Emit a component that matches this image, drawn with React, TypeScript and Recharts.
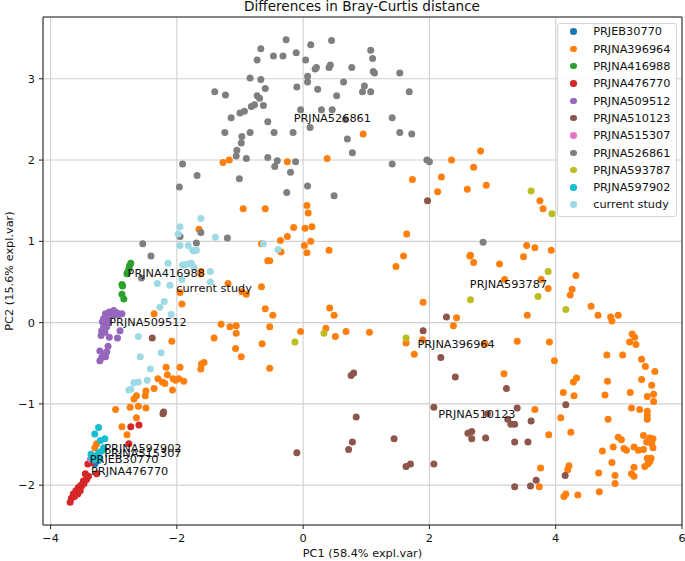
import React from 'react';
import { ScatterChart, Scatter, XAxis, YAxis, CartesianGrid, ReferenceArea } from 'recharts';

const seriesNames = ['PRJEB30770', 'PRJNA396964', 'PRJNA416988', 'PRJNA476770', 'PRJNA509512', 'PRJNA510123', 'PRJNA515307', 'PRJNA526861', 'PRJNA593787', 'PRJNA597902', 'current study'];
const seriesColors = ['#1f77b4', '#ff7f0e', '#2ca02c', '#d62728', '#9467bd', '#8c564b', '#e377c2', '#7f7f7f', '#bcbd22', '#17becf', '#9edae5'];

const xTicks = [-4, -2, 0, 2, 4, 6];
const yTicks = [-2, -1, 0, 1, 2, 3];

const prjeb30770 = [[-3.34, -1.71], [-3.30, -1.74], [-3.25, -1.70]];

const prjna396964 = [
  [-1.27, 1.97], [-1.17, 2.00], [-0.95, 1.40], [-0.60, 1.40], [-1.65, 1.15], [-0.66, 0.97], [-0.56, 0.76], [-1.62, 0.63],
  [-0.25, 1.98], [0.38, 2.02], [0.06, 1.44], [0.08, 1.35], [-0.15, 1.17], [0.03, 1.16], [0.14, 1.18], [-0.25, 1.06], [-0.36, 1.01], [0.02, 0.95], [0.12, 1.00], [0.41, 0.89], [0.06, 0.86], [-0.35, 0.87], [-0.53, 0.76],
  [0.95, 2.32], [2.35, 2.00], [1.73, 1.76], [2.19, 1.79], [2.13, 1.61], [2.60, 1.64], [1.64, 1.09], [1.59, 0.82], [1.47, 0.69], [2.64, 0.82],
  [2.81, 2.11], [2.70, 1.91], [2.90, 1.69], [3.75, 1.50], [3.80, 1.40], [3.54, 0.95], [3.67, 0.92], [3.93, 0.89], [3.49, 0.81], [2.65, 0.83], [2.70, 0.74], [3.11, 0.72], [4.32, 0.58], [3.77, 0.53], [3.19, 0.53],
  [3.88, 0.42], [4.26, 0.41], [4.23, 0.34], [4.56, 0.20], [4.67, 0.09], [4.87, 0.07], [4.89, 0.02], [4.99, 0.09], [3.55, 0.09], [3.39, -0.23], [3.90, -0.24], [2.88, -0.26], [3.98, -0.47], [3.18, -0.63], [5.21, -0.14], [5.25, -0.18], [5.17, -0.24], [5.27, -0.27], [4.81, -0.40], [5.06, -0.40], [5.36, -0.45], [5.42, -0.54], [5.57, -0.60],
  [1.90, 0.25], [2.43, 0.06], [2.38, -0.04], [0.42, 0.18], [0.49, 0.09], [0.68, -0.11], [0.51, -0.17], [1.05, -0.12], [1.63, -0.25], [1.76, -0.39], [1.89, -0.21],
  [4.33, -0.68], [4.28, -0.73], [4.82, -0.72], [5.36, -0.70], [5.52, -0.77], [4.12, -0.86], [4.29, -0.90], [4.78, -0.89], [5.18, -0.86], [5.45, -0.91], [5.55, -0.88], [5.55, -0.97], [3.67, -1.07], [4.08, -1.17], [4.24, -1.35], [4.83, -1.19], [3.89, -1.38], [5.20, -1.05], [5.33, -1.07], [5.45, -1.09], [5.45, -1.14], [5.45, -1.19], [5.39, -1.39], [5.49, -1.42], [5.54, -1.43], [5.44, -1.47], [5.52, -1.49], [5.54, -1.54], [4.99, -1.41], [5.04, -1.44], [4.91, -1.53], [5.08, -1.55], [5.12, -1.57], [5.24, -1.53], [5.31, -1.57], [5.39, -1.56], [4.74, -1.58], [4.89, -1.72], [5.45, -1.67], [5.51, -1.67], [5.49, -1.71], [5.46, -1.74], [5.41, -1.77], [5.24, -1.78], [5.20, -1.86], [5.24, -1.89], [4.68, -1.85], [4.94, -1.88], [4.94, -1.98], [3.76, -1.79], [4.21, -1.76], [4.19, -1.81], [3.74, -2.02], [4.13, -2.14], [4.16, -2.11], [4.35, -2.12], [4.69, -2.08],
  [-1.62, 0.60], [-1.19, 0.48], [-0.66, 0.44], [-0.97, 0.38], [-0.90, 0.35], [-1.95, 0.37], [-1.92, 0.23], [-2.36, 0.11], [-0.60, 0.17], [-0.48, 0.09], [-1.30, -0.02], [-1.16, -0.05], [-1.06, -0.04], [-1.06, -0.13], [-1.41, -0.19], [-0.53, -0.05], [-0.65, -0.26], [-1.07, -0.32], [-0.98, -0.42], [-0.53, -0.56], [-0.04, -0.11], [0.36, -0.07], [-2.08, -0.23], [-1.61, -0.51], [-1.57, -0.49], [-1.62, -0.57], [-2.17, -0.55], [-1.95, -0.55], [-2.15, -0.64], [-2.30, -0.69], [-2.23, -0.73], [-2.19, -0.75], [-2.06, -0.69], [-2.02, -0.71], [-1.97, -0.69], [-1.89, -0.72], [-2.07, -0.83], [-2.36, -0.81], [-2.49, -0.84], [-2.50, -0.90], [-2.64, -0.90], [-2.68, -0.94], [-2.74, -1.04], [-2.61, -1.03], [-2.49, -1.05], [-2.97, -1.07], [-2.64, -1.17], [-2.87, -1.28], [-2.79, -1.38], [-3.30, -1.54], [-3.27, -1.49],
];

const prjna416988 = [[-2.73, 0.73], [-2.75, 0.70], [-2.76, 0.66], [-2.78, 0.62], [-2.79, 0.60], [-2.87, 0.47], [-2.86, 0.45], [-2.87, 0.35], [-2.84, 0.29]];

const prjna476770 = [
  [-2.60, -1.26], [-2.73, -1.28], [-2.76, -1.49], [-3.41, -1.74], [-3.35, -1.72], [-3.27, -1.86], [-3.45, -1.86], [-3.40, -1.89], [-3.48, -1.95], [-3.43, -1.93],
  [-3.52, -2.00], [-3.56, -2.03], [-3.60, -2.07], [-3.64, -2.11], [-3.67, -2.16], [-3.69, -2.21], [-3.53, -2.07], [-3.51, -2.01], [-3.57, -2.11], [-3.62, -2.14], [-3.55, -2.05], [-3.47, -1.98],
];

const prjna509512 = [
  [-3.13, 0.11], [-3.07, 0.13], [-3.00, 0.15], [-2.95, 0.12], [-2.87, 0.11], [-3.16, 0.05], [-3.11, 0.07], [-3.05, 0.09], [-2.99, 0.09], [-2.92, 0.10],
  [-3.18, 0.01], [-3.13, -0.01], [-3.08, 0.01], [-3.16, -0.05], [-3.11, -0.05], [-3.19, -0.10], [-3.14, -0.12], [-3.20, -0.16], [-3.07, -0.18], [-2.94, -0.19],
  [-2.90, -0.10], [-3.09, -0.29], [-3.22, -0.35], [-3.16, -0.39], [-3.11, -0.36], [-3.19, -0.43], [-3.22, -0.47], [-3.13, -0.42],
];

const prjna510123 = [
  [-2.39, -0.19], [-2.21, -1.10], [-2.22, -1.12], [0.76, -0.65], [0.80, -0.62], [0.84, -1.16], [0.78, -1.47], [0.72, -1.56], [-0.10, -1.60], [2.27, 0.07],
  [1.90, -0.10], [2.18, -0.43], [2.41, -0.67], [2.07, -1.04], [2.61, -1.36], [2.67, -1.34], [2.67, -1.43], [1.44, -1.43], [1.63, -1.77], [1.70, -1.74],
  [2.07, -1.74], [3.22, -0.81], [3.39, -1.05], [2.92, -1.12], [3.24, -1.19], [3.29, -1.25], [3.35, -1.25], [3.61, -1.21], [4.16, -1.01], [2.89, -1.42],
  [3.35, -1.47], [3.56, -1.47], [3.69, -1.94], [3.60, -2.01], [3.35, -2.02], [4.15, -1.88], [1.97, 1.50],
];

const prjna515307 = [[-3.37, -1.68], [-3.28, -1.64]];

const prjna526861 = [
  [-0.27, 3.48], [0.12, 3.42], [0.45, 3.47], [-0.67, 3.37], [-0.47, 3.28], [-0.32, 3.28], [-0.11, 3.32], [-0.73, 3.23], [0.04, 3.23], [0.19, 3.12],
  [0.21, 3.14], [0.41, 3.14], [0.43, 3.17], [0.77, 3.14], [-0.84, 3.01], [-0.67, 2.99], [0.07, 3.03], [0.07, 2.96], [0.64, 2.96], [-1.40, 2.84],
  [-1.23, 2.80], [-0.60, 2.88], [-0.10, 2.90], [0.23, 2.87], [0.53, 2.79], [-0.73, 2.79], [-0.69, 2.76], [-0.82, 2.66], [-0.77, 2.68], [-0.63, 2.67],
  [-1.00, 2.58], [-0.93, 2.60], [-1.14, 2.52], [-0.56, 2.47], [-0.04, 2.62], [0.29, 2.62], [0.46, 2.62], [0.11, 2.40], [0.67, 2.50], [-1.24, 2.34],
  [-0.97, 2.29], [-0.84, 2.34], [-0.46, 2.34], [-0.16, 2.34], [0.70, 2.26], [0.78, 2.09], [-0.98, 2.21], [-1.05, 2.12], [-1.06, 2.05], [-0.90, 2.02],
  [-0.56, 2.03], [-0.41, 1.99], [-0.12, 1.98], [-0.45, 1.92], [-0.20, 1.85], [-1.91, 1.95], [-1.68, 1.81], [-1.01, 1.77], [-1.96, 1.67], [-0.26, 1.60],
  [0.07, 1.68], [0.49, 1.56], [-1.62, 1.11], [-1.95, 1.06], [-1.20, 1.04], [-1.69, 0.98], [-2.54, 0.97], [-2.41, 0.82], [-2.56, 0.55], [1.07, 3.35],
  [1.10, 3.25], [1.11, 3.09], [1.13, 3.07], [1.53, 3.07], [0.97, 2.91], [0.94, 2.84], [1.07, 2.84], [1.68, 2.84], [1.41, 2.52], [1.53, 2.34],
  [1.72, 2.32], [1.41, 1.95], [1.96, 2.00], [2.00, 1.98], [2.85, 0.99],
];

const prjna593787 = [[3.61, 1.62], [3.94, 1.34], [3.88, 0.63], [3.72, 0.32], [2.65, 0.28], [4.16, 0.16], [1.63, -0.19], [0.33, -0.13], [-0.13, -0.24]];

const prjna597902 = [
  [-3.24, -1.29], [-3.30, -1.37], [-3.21, -1.45], [-3.14, -1.43], [-3.16, -1.54], [-3.19, -1.58], [-3.35, -1.66], [-3.32, -1.69], [-3.27, -1.64], [-3.24, -1.60],
  [-3.36, -1.62], [-3.22, -1.68],
];

const currentStudy = [
  [-1.62, 1.28], [-1.95, 1.18], [-1.98, 1.09], [-1.39, 1.05], [-1.95, 0.95], [-1.82, 0.95], [-1.75, 0.89], [-1.69, 0.89], [-1.73, 0.88], [-2.14, 0.73],
  [-1.91, 0.71], [-1.89, 0.71], [-1.77, 0.73], [-1.73, 0.68], [-0.63, 0.97], [-0.40, 0.90], [-1.47, 0.50], [-2.31, 0.48], [-2.11, 0.46], [-1.92, 0.53],
  [-2.20, 0.26], [-2.27, 0.19], [-2.09, 0.10], [-2.61, -0.17], [-2.58, -0.42], [-2.25, -0.37], [-2.42, -0.57], [-2.47, -0.71], [-2.61, -0.73], [-2.68, -0.74],
  [-2.73, -0.82], [-2.76, -0.83], [-1.83, 0.72], [-1.47, 0.63],
];

const seriesValues = [prjeb30770, prjna396964, prjna416988, prjna476770, prjna509512, prjna510123, prjna515307, prjna526861, prjna593787, prjna597902, currentStudy];

const labelNames = ['PRJNA526861', 'PRJNA416988', 'current study', 'PRJNA509512', 'PRJNA597902', 'PRJNA515307', 'PRJEB30770', 'PRJNA476770', 'PRJNA593787', 'PRJNA396964', 'PRJNA510123'];
const labelX = [-0.15, -2.78, -2.01, -3.07, -3.15, -3.15, -3.38, -3.36, 2.64, 1.81, 2.14];
const labelY = [2.47, 0.56, 0.38, -0.04, -1.59, -1.65, -1.73, -1.87, 0.42, -0.31, -1.17];

const FONT = '"DejaVu Sans", sans-serif';
const fmt = (v: number) => (v < 0 ? '\u2212' + Math.abs(v) : String(v));

const toPts = (a: number[][]) => a.map(([x, y]) => ({ x, y }));
const labelData = labelNames.map((name, i) => ({ x: labelX[i], y: labelY[i], name }));

export default function App() {
  const W = 685;
  const H = 561;
  return (
    <div style={{ position: 'absolute', left: 0, top: 0, width: W, height: H, background: '#fff', fontFamily: FONT }}>
      <ScatterChart width={W} height={H} margin={{ top: 17, right: 3, left: 0, bottom: 0 }}>
        <CartesianGrid stroke="#d0d0d0" strokeWidth={1.1} />
        <XAxis
          type="number"
          dataKey="x"
          domain={[-4.12, 6.0]}
          ticks={xTicks}
          allowDataOverflow
          height={36}
          axisLine={false}
          tickLine={{ stroke: '#222' }}
          tickSize={4}
          tickMargin={5}
          tickFormatter={fmt}
          tick={{ fontSize: 11.3, fill: '#111', fontFamily: FONT }}
          label={{ value: 'PC1 (58.4% expl.var)', position: 'insideBottom', offset: 4, fontSize: 11.3, fill: '#111', fontFamily: FONT }}
        />
        <YAxis
          type="number"
          dataKey="y"
          domain={[-2.49, 3.76]}
          ticks={yTicks}
          allowDataOverflow
          width={43}
          axisLine={false}
          tickLine={{ stroke: '#222' }}
          tickSize={4}
          tickMargin={4}
          tickFormatter={fmt}
          tick={{ fontSize: 11.3, fill: '#111', fontFamily: FONT }}
          label={(props: any) => {
            const vb = props.viewBox || { x: 0, y: 17, width: 43, height: 508 };
            const cx = vb.x + 12.5;
            const cy = vb.y + vb.height / 2;
            return (
              <text x={cx} y={cy} transform={`rotate(-90, ${cx}, ${cy})`} textAnchor="middle" fontSize={11.3} fill="#111" fontFamily={FONT}>
                PC2 (15.6% expl.var)
              </text>
            );
          }}
        />
        {seriesValues.map((vals, i) => (
          <Scatter
            key={seriesNames[i]}
            name={seriesNames[i]}
            data={toPts(vals)}
            isAnimationActive={false}
            shape={(p: any) => <circle cx={p.cx} cy={p.cy} r={3.5} fill={seriesColors[i]} />}
          />
        ))}
        <Scatter
          name="labels"
          data={labelData}
          isAnimationActive={false}
          legendType="none"
          shape={(p: any) => (
            <text x={p.cx} y={p.cy} fontSize={11.3} fill="#111" fontFamily={FONT}>
              {p.payload.name}
            </text>
          )}
        />
        <ReferenceArea x1={-4.12} x2={6.0} y1={-2.49} y2={3.76} fill="none" stroke="#222" strokeWidth={1} ifOverflow="visible" />
      </ScatterChart>
      <div style={{ position: 'absolute', left: 162, top: -1, width: 400, textAlign: 'center', fontSize: 13.6, lineHeight: '14px', color: '#111', whiteSpace: 'nowrap' }}>
        Differences in Bray-Curtis distance
      </div>
      <div
        style={{
          position: 'absolute',
          left: 556.5,
          top: 23.3,
          width: 120,
          height: 193.5,
          boxSizing: 'border-box',
          border: '1px solid #d6d6d6',
          borderRadius: 3,
          background: 'rgba(255,255,255,0.85)',
        }}
      >
        {seriesNames.map((n, i) => (
          <div key={n} style={{ position: 'absolute', left: 0, top: 8.4 + 17.33 * i - 8.5 - 1, height: 17, width: 118, lineHeight: '17px', fontSize: 11.3, color: '#111', whiteSpace: 'nowrap' }}>
            <span style={{ position: 'absolute', left: 12.5, top: 5, width: 6.6, height: 6.6, borderRadius: '50%', background: seriesColors[i] }} />
            <span style={{ position: 'absolute', left: 35.7 }}>{n}</span>
          </div>
        ))}
      </div>
    </div>
  );
}
